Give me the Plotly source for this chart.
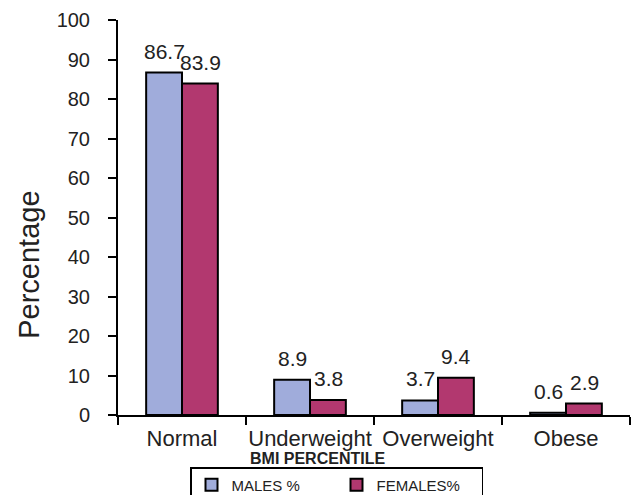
import plotly.graph_objects as go

categories = ["Normal", "Underweight", "Overweight", "Obese"]
males = [86.7, 8.9, 3.7, 0.6]
females = [83.9, 3.8, 9.4, 2.9]
y_ticks = list(range(0, 101, 10))

FONT = "Arial, Liberation Sans, sans-serif"
MALE_COLOR = "#a0acdb"
FEMALE_COLOR = "#b2386f"

fig = go.Figure()
fig.add_trace(go.Bar(
    name="MALES %", x=categories, y=males,
    marker=dict(color=MALE_COLOR, line=dict(color="black", width=2)),
))
fig.add_trace(go.Bar(
    name="FEMALES%", x=categories, y=females,
    marker=dict(color=FEMALE_COLOR, line=dict(color="black", width=2)),
))

# value labels above each bar
annotations = []
for cat, m, f in zip(categories, males, females):
    for val, shift in ((m, -18), (f, 18)):
        annotations.append(dict(
            x=cat, y=val, xref="x", yref="y", text=f"{val:.1f}",
            showarrow=False, xshift=shift, yanchor="bottom", yshift=8,
            font=dict(family=FONT, size=21, color="#222"),
        ))

annotations.append(dict(
    text="<b>BMI PERCENTILE</b>", xref="paper", yref="paper",
    x=0.389, y=-0.11, showarrow=False, xanchor="center", yanchor="middle",
    font=dict(family=FONT, size=16, color="#222"),
))
annotations.append(dict(
    text="Percentage", xref="paper", yref="paper", textangle=-90,
    x=-0.174, y=0.38, showarrow=False, xanchor="center", yanchor="middle",
    font=dict(family=FONT, size=29, color="#222"),
))

fig.update_layout(
    width=641, height=495,
    margin=dict(l=118, r=11, t=20, b=80, autoexpand=False),
    plot_bgcolor="white", paper_bgcolor="white",
    barmode="group", bargap=0.44, bargroupgap=0,
    font=dict(family=FONT, color="#222"),
    annotations=annotations,
    showlegend=True,
    legend=dict(
        orientation="h", xref="container", yref="container",
        x=190 / 641, y=(495 - 467) / 495, xanchor="left", yanchor="top",
        bordercolor="black", borderwidth=1.5,
        font=dict(family=FONT, size=15, color="#222"),
        itemwidth=30, tracegroupgap=0,
        entrywidth=100, entrywidthmode="pixels",
    ),
)

fig.update_xaxes(
    showline=True, linecolor="black", linewidth=2,
    ticks="outside", tickson="boundaries", ticklen=8, tickwidth=2, tickcolor="black",
    tickangle=0, tickfont=dict(family=FONT, size=22, color="#222"),
    ticklabelstandoff=3, showgrid=False,
)
fig.update_yaxes(
    range=[0, 100], tickvals=y_ticks,
    showline=True, linecolor="black", linewidth=2,
    ticks="outside", ticklen=8, tickwidth=2, tickcolor="black",
    tickfont=dict(family=FONT, size=20, color="#222"),
    ticklabelstandoff=14, showgrid=False, zeroline=False,
)

fig.write_html("out.html")
